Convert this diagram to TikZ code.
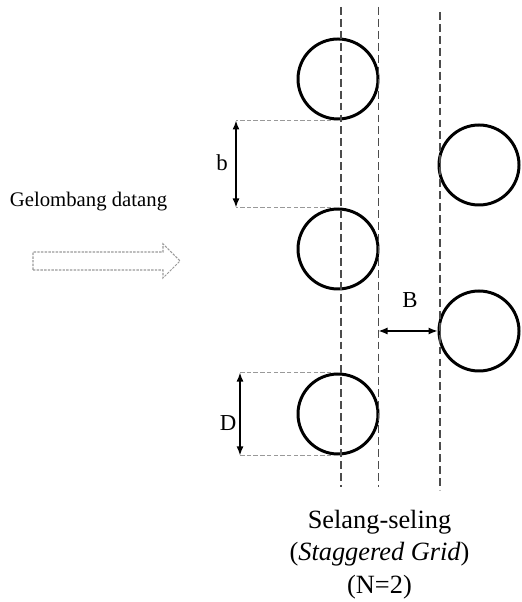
\documentclass[tikz,border=0pt]{standalone}
\usepackage{fontspec}
\setmainfont{Liberation Serif}
\usetikzlibrary{arrows.meta, positioning}
\definecolor{guidecolor}{rgb}{0.3, 0.3, 0.3}
\definecolor{extcolor}{rgb}{0.6, 0.6, 0.6}

\tikzset{
  pile/.style={circle, draw, line width=1.7pt, minimum size=1.6cm, inner sep=0pt},
  guide/.style={guidecolor, line width=0.8pt, dash pattern=on 4.5pt off 2.3pt},
  ext/.style={extcolor, line width=0.6pt, dash pattern=on 2.5pt off 1.3pt},
  dim/.style={<->, >={Latex[length=1.8mm,width=1.4mm]}, line width=0.9pt},
  lbl/.style={font=\fontsize{13}{15}\selectfont}
}

\begin{document}
\begin{tikzpicture}
        \useasboundingbox (0,0) rectangle (10.42,12.04);

        \node[pile] (L1) at (6.76,10.46) {};
        \node[pile] (L2) at (6.76,7.06) {};
        \node[pile] (L3) at (6.76,3.76) {};
        \node[pile] (R1) at (9.58,8.74) {};
        \node[pile] (R2) at (9.58,5.42) {};

        % garis bantu
        \coordinate (g1t) at (6.82,11.9);
        \coordinate (g1b) at (6.82,2.3);
        \coordinate (g2t) at (7.57,11.9);
        \coordinate (g2b) at (7.57,2.3);
        \coordinate (g3t) at (8.80,11.8);
        \coordinate (g3b) at (8.80,2.24);
        \draw[guide] (g1t) -- (g1b);
        \draw[guide] (g2t) -- (g2b);
        \draw[guide] (g3t) -- (g3b);

        % jarak b
        \coordinate (bx) at (4.72,0);
        \draw[ext] (L1.south) -- (L1.south -| bx);
        \draw[ext] (L2.north) -- (L2.north -| bx);
        \draw[dim] (L1.south -| bx) -- (L2.north -| bx);
        \node[lbl] (b) at (4.44,8.78) {b};

        % diameter D
        \coordinate (dx) at (4.80,0);
        \draw[ext] (L3.north) -- (L3.north -| dx);
        \draw[ext] (L3.south) -- (L3.south -| dx);
        \draw[dim] (L3.north -| dx) -- (L3.south -| dx);
        \node[lbl] (D) at (4.56,3.58) {D};

        % jarak B
        \draw[dim, line width=0.7pt] (R2.west -| g2t) -- (R2.west);
        \node[lbl] (B) at (8.2,6.04) {B};

        \node[font=\fontsize{11.8}{14}\selectfont] (gel) at (1.77,8.0) {Gelombang datang};
        \draw[extcolor, line width=0.6pt, dash pattern=on 1.4pt off 0.7pt]
          (0.66,6.64) -- (3.26,6.64) -- (3.26,6.48) -- (3.6,6.82)
          -- (3.26,7.16) -- (3.26,7.0) -- (0.66,7.0) -- cycle;

        \node[align=center, font=\fontsize{15}{18.5}\selectfont] (cap) at (7.59,0.95)
          {Selang-seling\\(\textit{Staggered Grid})\\(N=2)};
\end{tikzpicture}
\end{document}
